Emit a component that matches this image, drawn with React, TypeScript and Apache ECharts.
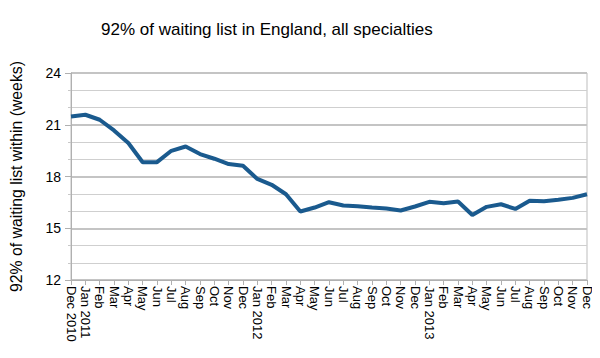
import React, { useEffect, useRef } from "react";
import * as echarts from "echarts";

const categories = [
  "Dec 2010", "Jan 2011", "Feb", "Mar", "Apr", "May", "Jun", "Jul", "Aug", "Sep", "Oct", "Nov", "Dec",
  "Jan 2012", "Feb", "Mar", "Apr", "May", "Jun", "Jul", "Aug", "Sep", "Oct", "Nov", "Dec",
  "Jan 2013", "Feb", "Mar", "Apr", "May", "Jun", "Jul", "Aug", "Sep", "Oct", "Nov", "Dec",
];

const weeks = [
  21.48, 21.58, 21.29, 20.67, 19.94, 18.83, 18.83, 19.49, 19.74, 19.3, 19.03, 18.72, 18.62,
  17.86, 17.52, 16.97, 15.97, 16.2, 16.51, 16.32, 16.28, 16.2, 16.14, 16.03, 16.26,
  16.53, 16.45, 16.55, 15.77, 16.24, 16.39, 16.12, 16.59, 16.57, 16.65, 16.76, 16.97,
];

const yMin = 12;
const yMax = 24;
const yInterval = 3;

const FONT = "'Liberation Sans', Arial, sans-serif";

export default function App() {
  const ref = useRef<HTMLDivElement>(null);
  useEffect(() => {
    if (!ref.current) return;
    const chart = echarts.init(ref.current, null, { renderer: "svg" });
    chart.setOption({
      animation: false,
      backgroundColor: "#ffffff",
      title: {
        text: "92% of waiting list in England, all specialties",
        left: 96,
        top: 16,
        textStyle: { fontFamily: FONT, fontSize: 17, fontWeight: "normal", color: "#000" },
      },
      grid: { left: 70, right: 13, top: 73, bottom: 78, show: true, borderColor: "#bdbdbd", borderWidth: 1 },
      xAxis: {
        type: "category",
        data: categories,
        boundaryGap: false,
        axisLine: { show: true, lineStyle: { color: "#b0b0b0", width: 1 } },
        axisTick: { show: true, length: 5, interval: 0, lineStyle: { color: "#b0b0b0" } },
        axisLabel: {
          interval: 0,
          rotate: -90,
          margin: 6,
          fontFamily: FONT,
          fontSize: 13,
          color: "#000",
        },
        splitLine: { show: false },
      },
      yAxis: {
        type: "value",
        min: yMin,
        max: yMax,
        interval: yInterval,
        name: "92% of waiting list within (weeks)",
        nameLocation: "middle",
        nameGap: 47,
        nameTextStyle: { fontFamily: FONT, fontSize: 15.8, color: "#000" },
        axisLine: { show: true, lineStyle: { color: "#b0b0b0", width: 1 } },
        axisTick: { show: true, length: 6, lineStyle: { color: "#b0b0b0" } },
        minorTick: { show: true, splitNumber: 3, length: 3, lineStyle: { color: "#c8c8c8" } },
        axisLabel: { fontFamily: FONT, fontSize: 14, color: "#000", margin: 10 },
        splitLine: { show: true, lineStyle: { color: "#c4c4c4", width: 2 } },
        minorSplitLine: { show: true, lineStyle: { color: "#cfcfcf", width: 1 } },
      },
      series: [
        {
          type: "line",
          data: weeks,
          symbol: "none",
          lineStyle: { color: "#1a5a8e", width: 4 },
          itemStyle: { color: "#1a5a8e" },
        },
      ],
    });
    return () => chart.dispose();
  }, []);
  return <div ref={ref} style={{ width: 600, height: 358, margin: -8 }} />;
}
